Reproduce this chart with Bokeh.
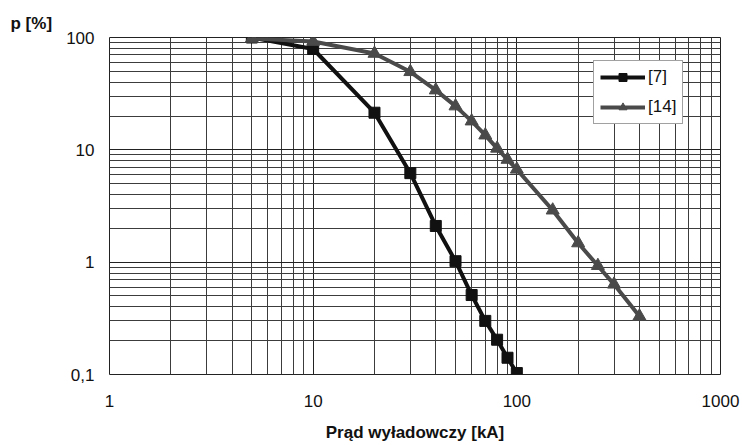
from bokeh.plotting import figure
from bokeh.models import Range1d, FixedTicker, Legend, LegendItem, Title
from bokeh.embed import file_html
from bokeh.resources import INLINE

# Data
x_ref7 = [5, 10, 20, 30, 40, 50, 60, 70, 80, 90, 100]
p_ref7 = [100, 79, 21.4, 6.2, 2.1, 1.02, 0.51, 0.30, 0.204, 0.141, 0.103]
x_ref14 = [5, 10, 20, 30, 40, 50, 60, 70, 80, 90, 100, 150, 200, 250, 300, 400]
p_ref14 = [98, 92, 72, 49.5, 34, 24.5, 18, 13.5, 10.3, 8.2, 6.7, 2.9, 1.48, 0.93, 0.635, 0.33]
series_names = ["[7]", "[14]"]

x_ticks = [1, 10, 100, 1000]
x_tick_labels = ["1", "10", "100", "1000"]
y_ticks = [0.1, 1, 10, 100]
y_tick_labels = ["0,1", "1", "10", "100"]

FONT = "Liberation Sans"

p = figure(width=742, height=445, x_axis_type="log", y_axis_type="log",
           x_range=Range1d(1, 1000), y_range=Range1d(0.1, 100),
           output_backend="svg", toolbar_location=None,
           min_border_left=109, min_border_right=22,
           min_border_top=37, min_border_bottom=71)
p.background_fill_color = "white"
p.border_fill_color = "white"
p.outline_line_color = "#222222"
p.outline_line_width = 1

x_minor = [m * d for d in (1, 10, 100) for m in range(2, 10)]
y_minor = [m * d for d in (0.1, 1, 10) for m in range(2, 10)]
p.xaxis.ticker = FixedTicker(ticks=x_ticks, minor_ticks=x_minor)
p.yaxis.ticker = FixedTicker(ticks=y_ticks, minor_ticks=y_minor)
p.xaxis.major_label_overrides = {v: s for v, s in zip(x_ticks, x_tick_labels)}
p.yaxis.major_label_overrides = {v: s for v, s in zip(y_ticks, y_tick_labels)}

for ax in (p.xaxis, p.yaxis):
    ax.axis_line_color = None
    ax.major_tick_line_color = None
    ax.minor_tick_line_color = None
    ax.major_tick_out = 0
    ax.major_tick_in = 0
    ax.minor_tick_out = 0
    ax.minor_tick_in = 0
    ax.major_label_text_font = FONT
    ax.major_label_text_font_size = "17px"
    ax.major_label_text_color = "#111111"
p.xaxis.major_label_standoff = 20
p.yaxis.major_label_standoff = 15

p.xaxis.axis_label = "Prąd wyładowczy [kA]"
p.xaxis.axis_label_text_font = FONT
p.xaxis.axis_label_text_font_style = "bold"
p.xaxis.axis_label_text_font_size = "17px"
p.xaxis.axis_label_text_color = "#111111"
p.xaxis.axis_label_standoff = 13

for g in (p.xgrid, p.ygrid):
    g.grid_line_color = "#222222"
    g.grid_line_width = 1
    g.minor_grid_line_color = "#3c3c3c"
    g.minor_grid_line_width = 1

c7 = "#111111"
c14 = "#4a4a4a"
l7 = p.line(x_ref7, p_ref7, line_color=c7, line_width=4)
m7 = p.scatter(x_ref7, p_ref7, marker="square", size=11, fill_color=c7, line_color=c7)
l14 = p.line(x_ref14, p_ref14, line_color=c14, line_width=4)
m14 = p.scatter(x_ref14, p_ref14, marker="triangle", size=13, fill_color=c14, line_color=c14)

legend = Legend(items=[LegendItem(label=series_names[0], renderers=[l7, m7]),
                       LegendItem(label=series_names[1], renderers=[l14, m14])],
                location=(484, 250))
legend.label_text_font = FONT
legend.label_text_font_size = "17px"
legend.label_text_color = "#111111"
legend.glyph_width = 45
legend.glyph_height = 20
legend.label_standoff = 3
legend.spacing = 10
legend.padding = 6
legend.margin = 0
legend.border_line_color = "#444444"
legend.border_line_width = 1
legend.background_fill_color = "white"
legend.background_fill_alpha = 1
p.add_layout(legend)

ytitle = Title(text="p [%]", align="left", offset=-99, standoff=9,
               text_font=FONT, text_font_style="bold", text_font_size="17px",
               text_color="#111111")
p.add_layout(ytitle, "above")

open("out.html", "w").write(file_html(p, INLINE))
